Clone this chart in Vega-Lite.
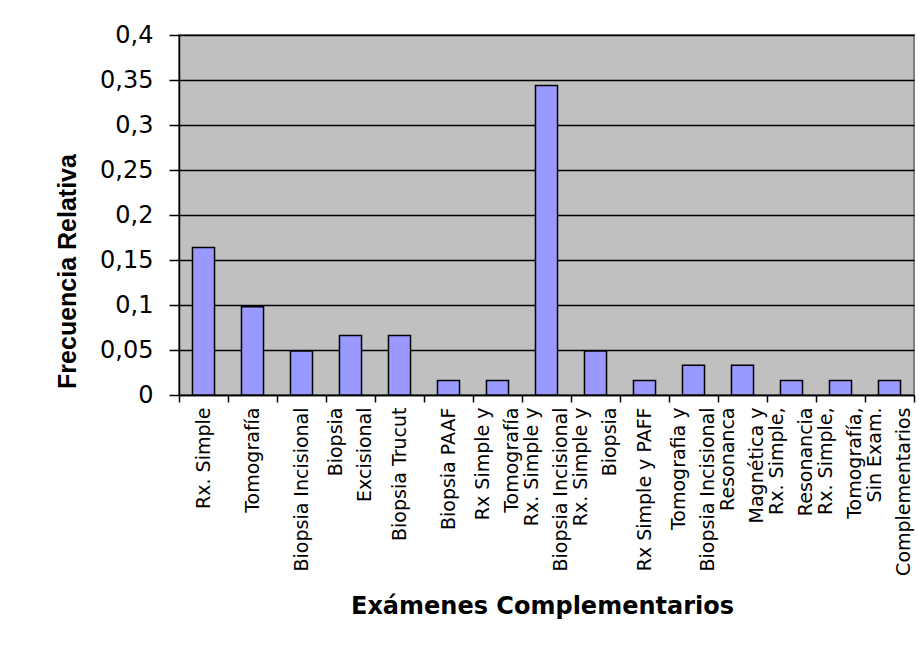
{
  "$schema": "https://vega.github.io/schema/vega-lite/v6.json",
  "width": 735,
  "height": 360,
  "autosize": "none",
  "padding": {"left": 179, "top": 35, "right": 5, "bottom": 250},
  "background": "white",
  "data": {
    "values": [
      {"examen": "Rx. Simple", "frecuencia": 0.164},
      {"examen": "Tomografía", "frecuencia": 0.098},
      {"examen": "Biopsia Incisional", "frecuencia": 0.049},
      {"examen": "Biopsia\nExcisional", "frecuencia": 0.066},
      {"examen": "Biopsia Trucut", "frecuencia": 0.066},
      {"examen": "Biopsia PAAF", "frecuencia": 0.016},
      {"examen": "Rx Simple y\nTomografía", "frecuencia": 0.016},
      {"examen": "Rx. Simple y\nBiopsia Incisional", "frecuencia": 0.344},
      {"examen": "Rx. Simple y\nBiopsia", "frecuencia": 0.049},
      {"examen": "Rx Simple y PAFF", "frecuencia": 0.016},
      {"examen": "Tomografia y\nBiopsia Incisional", "frecuencia": 0.033},
      {"examen": "Resonanca\nMagnética y", "frecuencia": 0.033},
      {"examen": "Rx. Simple,\nResonancia", "frecuencia": 0.016},
      {"examen": "Rx. Simple,\nTomografía,", "frecuencia": 0.016},
      {"examen": "Sin Exam.\nComplementarios", "frecuencia": 0.016}
    ]
  },
  "encoding": {
    "y": {
      "field": "frecuencia",
      "type": "quantitative",
      "scale": {"domain": [0, 0.4]},
      "axis": {
        "title": "Frecuencia Relativa",
        "values": [0, 0.05, 0.1, 0.15, 0.2, 0.25, 0.3, 0.35, 0.4],
        "labelExpr": "replace(format(datum.value, '~g'), '.', ',')",
        "labelFont": "DejaVu Sans",
        "labelFontSize": 24,
        "labelColor": "black",
        "labelPadding": 16,
        "labelBaseline": "middle",
        "grid": true,
        "gridColor": "black",
        "gridWidth": 1.5,
        "gridOpacity": 1,
        "tickSize": 10,
        "tickColor": "black",
        "tickWidth": 1.5,
        "domainColor": "black",
        "domainWidth": 1.5,
        "titleFont": "Liberation Sans",
        "titleFontSize": 25,
        "titleFontWeight": "bold",
        "titleColor": "black",
        "titleAngle": -90,
        "titleBaseline": "alphabetic",
        "titleAlign": "center",
        "titleX": -104,
        "titleY": 236
      }
    }
  },
  "layer": [
    {
      "mark": {
        "type": "bar",
        "fill": "#9999FF",
        "stroke": "black",
        "strokeWidth": 1.5,
        "width": {"band": 0.45}
      },
      "encoding": {
        "x": {
          "field": "examen",
          "type": "nominal",
          "sort": null,
          "scale": {"paddingInner": 0, "paddingOuter": 0},
          "axis": {
            "orient": "bottom",
            "title": "Exámenes Complementarios",
            "labelAngle": -90,
            "labelAlign": "right",
            "labelBaseline": "middle",
            "labelExpr": "indexof(datum.label, '\\n') < 0 ? datum.label : ''",
            "labelFont": "DejaVu Sans",
            "labelFontSize": 19,
            "labelColor": "black",
            "labelPadding": 5,
            "labelLimit": 300,
            "labelOverlap": false,
            "tickBand": "extent",
            "tickSize": 7,
            "tickColor": "black",
            "tickWidth": 1.5,
            "domainColor": "black",
            "domainWidth": 1.5,
            "grid": false,
            "titleFont": "DejaVu Sans",
            "titleFontSize": 24,
            "titleFontWeight": "bold",
            "titleColor": "black",
            "titleBaseline": "alphabetic",
            "titleAlign": "center",
            "titleX": 363,
            "titleY": 218
          }
        }
      }
    },
    {
      "mark": {
        "type": "bar",
        "opacity": 0,
        "width": {"band": 0.45}
      },
      "encoding": {
        "x": {
          "field": "examen",
          "type": "nominal",
          "sort": null,
          "axis": {
            "orient": "bottom",
            "title": null,
            "labelAngle": -90,
            "labelAlign": "right",
            "labelBaseline": "middle",
            "labelExpr": "indexof(datum.label, '\\n') < 0 ? '' : [pad(split(datum.label, '\\n')[0], length(split(datum.label, '\\n')[0]) + round(0.76 * max(0, length(split(datum.label, '\\n')[1]) - length(split(datum.label, '\\n')[0]))), '\u00a0'), pad(split(datum.label, '\\n')[1], length(split(datum.label, '\\n')[1]) + round(0.76 * max(0, length(split(datum.label, '\\n')[0]) - length(split(datum.label, '\\n')[1]))), '\u00a0')]",
            "labelFont": "DejaVu Sans",
            "labelFontSize": 19,
            "labelLineHeight": 29,
            "labelColor": "black",
            "labelPadding": 5,
            "labelOffset": -14.5,
            "labelLimit": 300,
            "labelOverlap": false,
            "tickSize": 7,
            "tickOpacity": 0,
            "domain": false,
            "grid": false
          }
        }
      }
    }
  ],
  "resolve": {"axis": {"x": "independent"}},
  "config": {
    "view": {"fill": "#C0C0C0", "stroke": "#808080", "strokeWidth": 2}
  }
}
